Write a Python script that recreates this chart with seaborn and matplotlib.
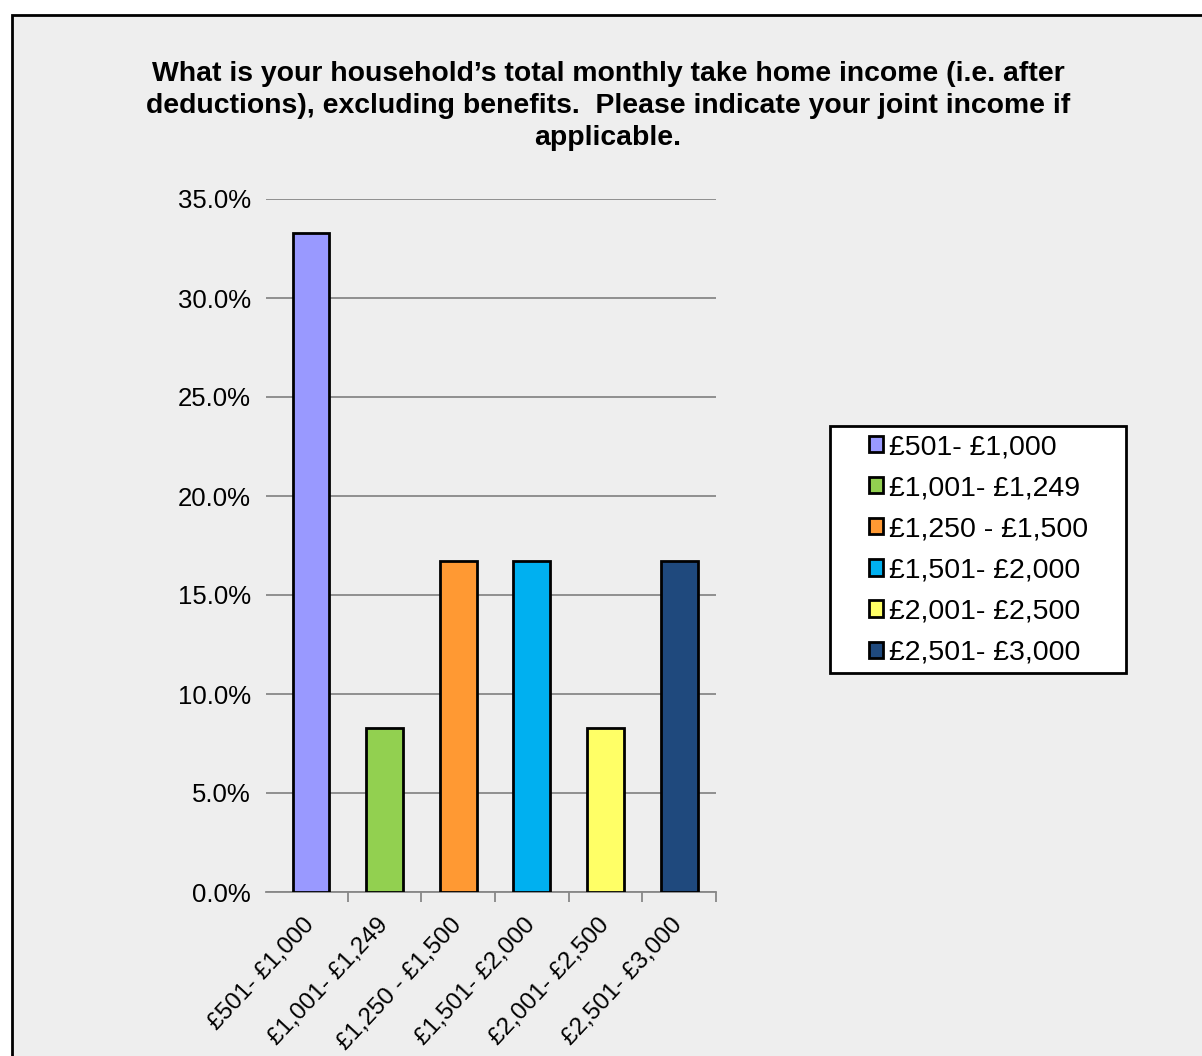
import matplotlib
matplotlib.use("Agg")
import matplotlib.pyplot as plt
from matplotlib.patches import Rectangle, Patch
from matplotlib.ticker import FuncFormatter, FixedLocator
import seaborn as sns
import pandas as pd

# Survey answers: share of respondents per monthly income band
categories = ["£501- £1,000", "£1,001- £1,249", "£1,250 - £1,500",
              "£1,501- £2,000", "£2,001- £2,500", "£2,501- £3,000"]
shares = [33.3, 8.3, 16.7, 16.7, 8.3, 16.7]
colors = ["#9999FF", "#92D050", "#FF9933", "#00B0F0", "#FFFF66", "#1F497D"]
title = ("What is your household’s total monthly take home income (i.e. after\n"
         "deductions), excluding benefits.  Please indicate your joint income if\n"
         "applicable.")

df = pd.DataFrame({"band": categories, "share": shares})

sns.set_theme(style="white")
plt.rcParams["font.family"] = ["Liberation Sans", "DejaVu Sans"]
plt.rcParams["text.color"] = "black"

W, H = 1202, 1056
fig = plt.figure(figsize=(W / 100, H / 100), dpi=100)
fig.patch.set_facecolor("white")

# chart area panel with a dark frame (open towards right and bottom edges)
panel = Rectangle((12 / W, -0.1), 1.2, (H - 15) / H + 0.1, transform=fig.transFigure,
                  facecolor="#EEEEEE", edgecolor="black", linewidth=2, zorder=-1)
fig.patches.append(panel)

ax = fig.add_axes([266 / W, (H - 892) / H, (716 - 266) / W, (892 - 199) / H])
ax.set_facecolor("none")
ax.set_zorder(1)

sns.barplot(data=df, x="band", y="share", hue="band", palette=colors,
            order=categories, hue_order=categories, dodge=False, width=0.5,
            saturation=1, edgecolor="black", linewidth=2, legend=False,
            ax=ax, zorder=3)

ax.set_xlim(-0.61, 5.5)
ax.set_ylim(0, 35)
ax.set_yticks([0, 5, 10, 15, 20, 25, 30, 35])
ax.yaxis.set_major_formatter(FuncFormatter(lambda v, p: f"{v:.1f}%"))
ax.grid(axis="y", color="#888888", linewidth=1.3, zorder=1)
ax.grid(axis="x", visible=False)
for side in ["left", "right", "top"]:
    ax.spines[side].set_visible(False)
ax.spines["bottom"].set_color("#888888")
ax.spines["bottom"].set_linewidth(1.3)

ax.tick_params(axis="y", length=0, pad=11, labelsize=18.5, labelcolor="black")
ax.tick_params(axis="x", which="major", length=0, pad=21, labelsize=17.6, labelcolor="black")
ax.xaxis.set_minor_locator(FixedLocator([0.5, 1.5, 2.5, 3.5, 4.5, 5.5]))
ax.tick_params(axis="x", which="minor", bottom=True, length=7, width=1.3,
               color="#888888", direction="out")
ax.set_xticks(range(len(categories)))
ax.set_xticklabels(categories, rotation=47, ha="right", va="center",
                   rotation_mode="anchor")
ax.set_xlabel("")
ax.set_ylabel("")

fig.text(608 / W, (H - 106) / H, title, ha="center", va="center", color="black",
         fontsize=20.4, fontweight="bold", linespacing=1.28)

# legend box
box = Rectangle((830 / W, (H - 673) / H), (1126 - 830) / W, (673 - 426) / H,
                transform=fig.transFigure, facecolor="white", edgecolor="black",
                linewidth=2, zorder=1)
fig.patches.append(box)
handles = [Patch(facecolor=c, edgecolor="black", linewidth=2) for c in colors]
leg = fig.legend(handles, categories, loc="center left",
                 bbox_to_anchor=(869 / W, (H - 550) / H),
                 bbox_transform=fig.transFigure, frameon=False, fontsize=20.5,
                 handlelength=0.5, handleheight=0.5, handletextpad=0.2,
                 labelspacing=0.53, borderpad=0, borderaxespad=0)
for t in leg.get_texts():
    t.set_color("black")
leg.set_zorder(2)

fig.savefig("out.png", dpi=100, facecolor="white")
